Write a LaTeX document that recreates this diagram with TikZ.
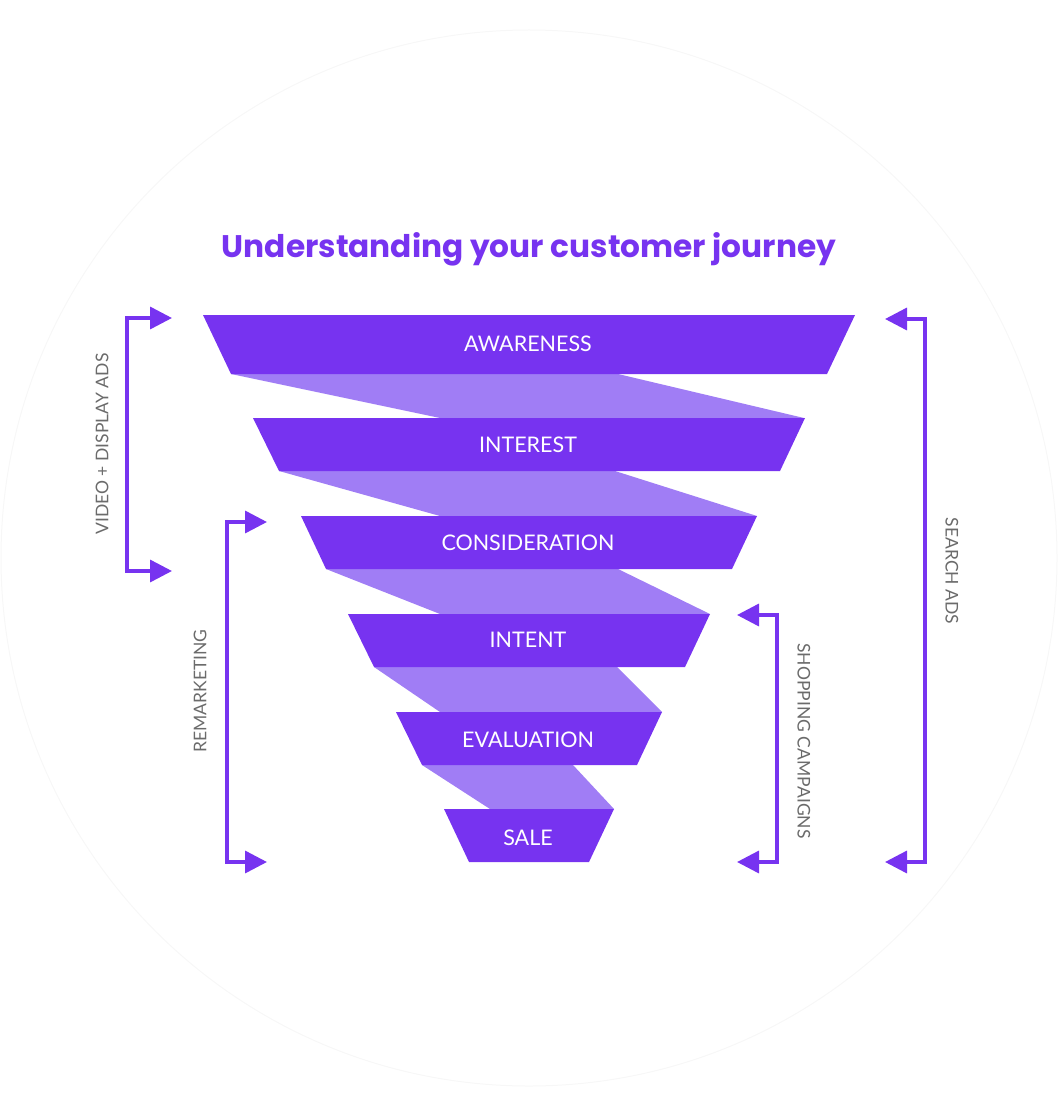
\documentclass[tikz,border=0pt]{standalone}
\usepackage{fontspec}
\setmainfont{Lato}
\newfontfamily\titlefont{Poppins}
\usetikzlibrary{arrows.meta}
\definecolor{funneldark}{HTML}{7733F0}
\definecolor{funnellight}{HTML}{A07DF5}
\definecolor{sidegray}{HTML}{6B6B6B}
\tikzset{
  band/.style={fill=funneldark},
  twist/.style={fill=funnellight},
  stage/.style={text=white, font=\fontsize{21.5}{21.5}\selectfont, inner sep=0pt},
  sidelabel/.style={text=sidegray, font=\fontsize{17.5}{17.5}\selectfont, inner sep=0pt},
  headline/.style={text=funneldark, font=\titlefont\bfseries\fontsize{31.2}{31.2}\selectfont, inner sep=0pt},
  bracket/.style={draw=funneldark, line width=3.5pt,
    {Triangle[length=22pt,width=22pt]}-{Triangle[length=22pt,width=22pt]}},
}

\begin{document}
\begin{tikzpicture}[x=1pt,y=-1pt]
        \useasboundingbox (0,0) rectangle (1058,1115);
        % faint round backdrop
        \draw[black!3, line width=1pt] (529,558) circle (528);

        \node[headline, anchor=base] (title) at (529,257) {Understanding your customer journey};

        % light twists between the stages
        \fill[twist] (231,374) -- (618,374) -- (804,418) -- (440,418) -- cycle;
        \fill[twist] (279,471) -- (615,471) -- (757,516) -- (440,516) -- cycle;
        \fill[twist] (326,569) -- (618,569) -- (710,614) -- (440,614) -- cycle;
        \fill[twist] (374,667) -- (617,667) -- (662,712) -- (440,712) -- cycle;
        \fill[twist] (422,765) -- (573,765) -- (614,809) -- (490,809) -- cycle;

        % stages
        \fill[band] (203,315) -- (855,315) -- (827,374) -- (231,374) -- cycle;
        \fill[band] (253,418) -- (805,418) -- (780,471) -- (279,471) -- cycle;
        \fill[band] (301,516) -- (757,516) -- (732,569) -- (326,569) -- cycle;
        \fill[band] (348,614) -- (710,614) -- (685,667) -- (374,667) -- cycle;
        \fill[band] (396,712) -- (662,712) -- (637,765) -- (422,765) -- cycle;
        \fill[band] (444,809) -- (614,809) -- (589,862) -- (469,862) -- cycle;

        \node[stage] (awareness) at (528,344) {AWARENESS};
        \node[stage] (interest) at (528,445) {INTEREST};
        \node[stage] (consideration) at (528,543) {CONSIDERATION};
        \node[stage] (intent) at (528,640) {INTENT};
        \node[stage] (evaluation) at (528,740) {EVALUATION};
        \node[stage] (sale) at (528,838) {SALE};

        % bracket ends
        \coordinate (vdTop) at (172,318);
        \coordinate (vdBot) at (172,571);
        \coordinate (rmTop) at (267,522);
        \coordinate (rmBot) at (267,862);
        \coordinate (spTop) at (737,615);
        \coordinate (spBot) at (737,862);
        \coordinate (saTop) at (885,319);
        \coordinate (saBot) at (885,862);

        \draw[bracket] (vdTop) -- ++(-45,0) |- (vdBot);
        \draw[bracket] (rmTop) -- ++(-40,0) |- (rmBot);
        \draw[bracket] (spTop) -- ++(40,0) |- (spBot);
        \draw[bracket] (saTop) -- ++(40,0) |- (saBot);

        \node[sidelabel, rotate=90] (videoads) at (102,444) {VIDEO + DISPLAY ADS};
        \node[sidelabel, rotate=90] (remarketing) at (200,691) {REMARKETING};
        \node[sidelabel, rotate=-90] (shopping) at (804,741) {SHOPPING CAMPAIGNS};
        \node[sidelabel, rotate=-90] (searchads) at (952,571) {SEARCH ADS};
\end{tikzpicture}
\end{document}
